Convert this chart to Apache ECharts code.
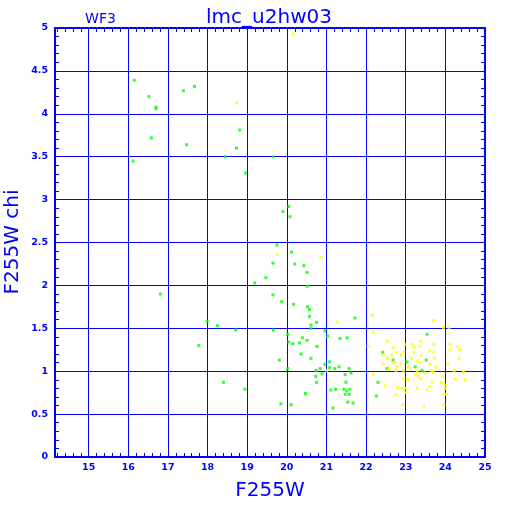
<!DOCTYPE html>
<html>
<head>
<meta charset="utf-8">
<script src="https://cdn.jsdelivr.net/npm/echarts@6/dist/echarts.min.js"></script>
<style>html,body{margin:0;padding:0;background:#fff}#c{width:512px;height:512px}</style>
</head>
<body>
<div id="c"></div>
<script>
const titleText = 'lmc_u2hw03';
const chipText = 'WF3';
const xName = 'F255W';
const yName = 'F255W chi';
const xRange = [14.15, 25];
const yRange = [0, 5];

const greenPoints = [
[16.15,4.39],[16.52,4.20],[16.70,4.08],[16.70,4.06],[17.39,4.27],[17.67,4.32],[16.58,3.72],[17.47,3.64],[18.81,3.81],[18.73,3.60],[18.45,3.50],[19.66,3.50],[16.12,3.45],[18.96,3.31],[19.75,2.47],
[20.05,2.92],[19.90,2.86],[20.08,2.80],[20.12,2.39],[19.65,2.26],[20.20,2.25],[20.43,2.23],[20.51,2.15],[19.47,2.09],[19.19,2.03],[20.52,1.99],[19.65,1.89],[19.87,1.81],[20.17,1.78],[20.52,1.75],[20.57,1.72],[20.57,1.64],[21.72,1.62],[20.75,1.57],[20.61,1.54],[17.99,1.58],[18.25,1.53],[18.71,1.48],[19.66,1.48],[20.61,1.50],[20.96,1.47],[20.02,1.43],[21.03,1.41],[20.39,1.39],[21.34,1.38],[21.52,1.39],[20.51,1.36],[20.05,1.34],[20.15,1.32],[20.32,1.33],[20.76,1.29],[17.78,1.30],[20.36,1.20],[20.61,1.15],[19.81,1.13],[21.08,1.11],[20.96,1.08],[21.32,1.05],[21.08,1.04],[21.21,1.03],[21.57,1.03],[20.84,1.03],[20.74,1.01],[20.02,1.03],[20.89,0.97],[21.62,0.98],[21.47,0.96],[20.73,0.94],[21.49,0.87],[20.75,0.87],[18.40,0.87],[18.94,0.79],[21.11,0.78],[21.23,0.79],[21.44,0.79],[21.51,0.77],[21.59,0.79],[21.47,0.73],[21.57,0.73],[20.47,0.74],[21.54,0.64],[21.67,0.63],[19.85,0.62],[20.11,0.61],[21.16,0.57],
[23.54,1.43],[22.42,1.22],[22.68,1.13],[23.03,1.11],[23.52,1.13],[23.24,1.05],[22.53,1.03],[23.41,1.01],[22.30,0.87],[22.26,0.71],[16.81,1.90]
];

const yellowPoints = [
[18.73,4.13],[19.76,2.36],[20.15,4.93],[20.86,2.33],[21.27,1.57],[22.05,1.29],[21.01,1.01],[21.05,0.52],
[22.16,1.65],[23.70,1.59],[23.95,1.51],[24.09,1.50],[22.18,1.45],[22.53,1.35],[23.38,1.35],[23.16,1.31],[22.99,1.31],[23.21,1.28],[23.36,1.29],[23.71,1.31],[24.12,1.31],[24.31,1.29],[22.68,1.27],[24.12,1.25],[24.37,1.25],[23.61,1.24],[23.71,1.22],[22.78,1.22],[22.95,1.22],[23.21,1.22],[22.65,1.19],[22.88,1.19],[23.38,1.18],[22.43,1.19],[22.53,1.15],[23.15,1.15],[23.73,1.15],[24.34,1.15],[23.29,1.12],[22.67,1.10],[22.73,1.10],[23.36,1.10],[23.61,1.08],[24.07,1.08],[22.43,1.08],[22.88,1.08],[22.78,1.05],[23.07,1.05],[23.76,1.05],[22.58,1.02],[22.75,1.01],[22.93,1.01],[23.12,1.03],[23.29,1.00],[23.63,1.01],[23.70,0.99],[24.22,1.01],[24.46,0.99],[22.19,0.96],[23.24,0.96],[23.48,0.98],[23.32,0.94],[23.92,0.94],[22.95,0.91],[23.05,0.90],[23.38,0.91],[24.25,0.91],[24.50,0.90],[23.67,0.87],[23.90,0.87],[24.00,0.84],[23.61,0.82],[22.48,0.83],[22.80,0.81],[22.90,0.80],[23.00,0.80],[23.29,0.80],[23.53,0.78],[24.00,0.80],[23.00,0.75],[22.75,0.73],[23.95,0.73],[24.03,0.73],[22.92,0.61],[23.46,0.59],[23.96,0.61]
];

const BLUE = '#0000ff';
const labelFont = {color: BLUE, fontFamily: 'DejaVu Sans', fontWeight: 'bold', fontSize: 9.5};

const chart = echarts.init(document.getElementById('c'), null, {renderer: 'canvas'});
const minorX = (pos) => ({
  type: 'value', position: pos, min: xRange[0], max: xRange[1], splitNumber: 54,
  axisLine: {show: pos === 'top', onZero: false, lineStyle: {color: BLUE, width: 2}},
  axisTick: {show: true, inside: true, length: 4, lineStyle: {color: BLUE, width: 1}},
  axisLabel: {show: false}, splitLine: {show: false}
});
chart.setOption({
  animation: false,
  backgroundColor: '#ffffff',
  grid: {left: 55, right: 27, top: 28, bottom: 55, containLabel: false},
  xAxis: [
    {
      type: 'value', position: 'bottom', min: xRange[0], max: xRange[1], splitNumber: 10,
      axisLine: {show: true, onZero: false, lineStyle: {color: BLUE, width: 2}},
      axisTick: {show: false},
      axisLabel: Object.assign({showMinLabel: false, margin: 6}, labelFont),
      splitLine: {show: true, lineStyle: {color: BLUE, width: 1}}
    },
    minorX('bottom'),
    minorX('top')
  ],
  yAxis: [
    {
      type: 'value', position: 'left', min: yRange[0], max: yRange[1], interval: 0.5,
      axisLine: {show: true, onZero: false, lineStyle: {color: BLUE, width: 2}},
      axisTick: {show: false, inside: true},
      minorTick: {show: true, splitNumber: 5, length: 4, lineStyle: {color: BLUE, width: 1}},
      axisLabel: Object.assign({margin: 7}, labelFont),
      splitLine: {show: true, lineStyle: {color: BLUE, width: 1}}
    },
    {
      type: 'value', position: 'right', min: yRange[0], max: yRange[1], interval: 0.5,
      axisLine: {show: true, onZero: false, lineStyle: {color: BLUE, width: 2}},
      axisTick: {show: false, inside: true},
      minorTick: {show: true, splitNumber: 5, length: 4, lineStyle: {color: BLUE, width: 1}},
      axisLabel: {show: false},
      splitLine: {show: false}
    }
  ],
  graphic: [
    {type: 'text', x: 269, y: 18, style: {text: titleText, fill: BLUE, fontSize: 20, fontFamily: 'DejaVu Sans', align: 'center', verticalAlign: 'middle'}},
    {type: 'text', x: 100.5, y: 19, style: {text: chipText, fill: BLUE, fontSize: 14, fontFamily: 'DejaVu Sans', align: 'center', verticalAlign: 'middle'}},
    {type: 'text', x: 270, y: 491, style: {text: xName, fill: BLUE, fontSize: 20, fontFamily: 'DejaVu Sans', align: 'center', verticalAlign: 'middle'}},
    {type: 'text', x: 13, y: 242, rotation: Math.PI / 2, style: {text: yName, fill: BLUE, fontSize: 20, fontFamily: 'DejaVu Sans', align: 'center', verticalAlign: 'middle'}}
  ],
  series: [
    {type: 'scatter', xAxisIndex: 0, yAxisIndex: 0, data: greenPoints, symbol: 'rect', symbolSize: 3, itemStyle: {color: '#00ff00'}, silent: true},
    {type: 'scatter', xAxisIndex: 0, yAxisIndex: 0, data: yellowPoints, symbol: 'rect', symbolSize: 3, itemStyle: {color: '#ffff00'}, silent: true}
  ]
});
</script>
</body>
</html>
